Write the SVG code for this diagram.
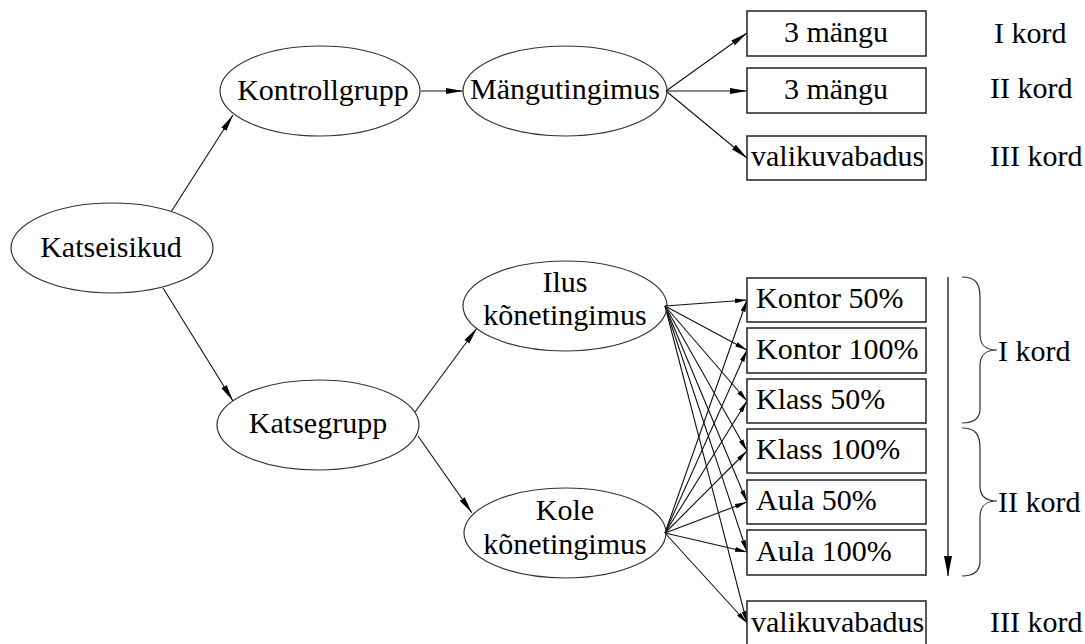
<svg xmlns="http://www.w3.org/2000/svg" width="1085" height="644" viewBox="0 0 1085 644">
<style>
text{font-family:"Liberation Serif","Times New Roman",serif;font-size:30px;fill:#000}
.n{fill:none;stroke:#333;stroke-width:1.2}
.b{fill:#fff;stroke:#222;stroke-width:1.5}
.e{fill:none;stroke:#111;stroke-width:1.1;marker-end:url(#ah)}
.s{fill:none;stroke:#111;stroke-width:1.1;marker-end:url(#as)}
.v{fill:none;stroke:#111;stroke-width:1.3;marker-end:url(#av)}
.c{text-anchor:middle}
</style>
<defs>
<marker id="ah" markerUnits="userSpaceOnUse" markerWidth="18" markerHeight="8" refX="17" refY="4" orient="auto">
<path d="M0,1 L17,4 L0,7 z" fill="#000"/>
</marker>
<marker id="as" markerUnits="userSpaceOnUse" markerWidth="13" markerHeight="6" refX="12" refY="3" orient="auto">
<path d="M0,0.6 L12,3 L0,5.4 z" fill="#000"/>
</marker>
<marker id="av" markerUnits="userSpaceOnUse" markerWidth="21" markerHeight="10" refX="20" refY="5" orient="auto">
<path d="M0,1 L20,5 L0,9 z" fill="#000"/>
</marker>
</defs>
<rect width="1085" height="644" fill="#fff"/>
<g id="connectors">
<line class="e" x1="171" y1="212" x2="233" y2="115"/>
<line class="e" x1="163" y1="288" x2="233" y2="401"/>
<line class="e" x1="421" y1="91" x2="463" y2="91"/>
<line class="e" x1="415" y1="412" x2="477" y2="328"/>
<line class="e" x1="418" y1="436" x2="472" y2="513"/>
<line class="e" x1="666" y1="91" x2="747" y2="33"/>
<line class="e" x1="666" y1="91" x2="747" y2="91"/>
<line class="e" x1="666" y1="91" x2="747" y2="158"/>
<line class="s" x1="665" y1="306" x2="747" y2="300"/>
<line class="s" x1="665" y1="306" x2="747" y2="350"/>
<line class="s" x1="665" y1="306" x2="747" y2="401"/>
<line class="s" x1="665" y1="306" x2="747" y2="451"/>
<line class="s" x1="665" y1="306" x2="747" y2="502"/>
<line class="s" x1="665" y1="306" x2="747" y2="552"/>
<line class="s" x1="665" y1="306" x2="747" y2="623"/>
<line class="s" x1="665" y1="533" x2="747" y2="300"/>
<line class="s" x1="665" y1="533" x2="747" y2="350"/>
<line class="s" x1="665" y1="533" x2="747" y2="401"/>
<line class="s" x1="665" y1="533" x2="747" y2="451"/>
<line class="s" x1="665" y1="533" x2="747" y2="502"/>
<line class="s" x1="665" y1="533" x2="747" y2="552"/>
<line class="s" x1="665" y1="533" x2="747" y2="623"/>
<line class="v" x1="948" y1="277" x2="948" y2="576"/>
</g>
<g id="katseisikud"><ellipse class="n" cx="112" cy="248" rx="101" ry="45"/><text class="c" x="111" y="257">Katseisikud</text></g>
<g id="kontrollgrupp"><ellipse class="n" cx="320" cy="91" rx="100" ry="45"/><text class="c" x="323" y="100">Kontrollgrupp</text></g>
<g id="mangutingimus"><ellipse class="n" cx="565" cy="91" rx="102" ry="45"/><text class="c" x="565" y="99">Mängutingimus</text></g>
<g id="katsegrupp"><ellipse class="n" cx="318" cy="425" rx="101" ry="45"/><text class="c" x="318" y="433">Katsegrupp</text></g>
<g id="ilus"><ellipse class="n" cx="565" cy="306" rx="102" ry="45"/><text class="c" x="565" y="292">Ilus</text><text class="c" x="565" y="325">kõnetingimus</text></g>
<g id="kole"><ellipse class="n" cx="565" cy="533" rx="101" ry="45"/><text class="c" x="565" y="520">Kole</text><text class="c" x="565" y="554">kõnetingimus</text></g>
<g id="m1"><rect class="b" x="747" y="11" width="179" height="45"/><text class="c" x="836" y="42">3 mängu</text></g>
<g id="m2"><rect class="b" x="747" y="68" width="179" height="45"/><text class="c" x="836" y="99">3 mängu</text></g>
<g id="m3"><rect class="b" x="747" y="136" width="179" height="44"/><text x="751" y="166">valikuvabadus</text></g>
<g id="k50"><rect class="b" x="747" y="278" width="179" height="44"/><text x="756" y="308">Kontor 50%</text></g>
<g id="k100"><rect class="b" x="747" y="328" width="179" height="45"/><text x="756" y="359">Kontor 100%</text></g>
<g id="kl50"><rect class="b" x="747" y="379" width="179" height="44"/><text x="756" y="409">Klass 50%</text></g>
<g id="kl100"><rect class="b" x="747" y="429" width="179" height="44"/><text x="756" y="459">Klass 100%</text></g>
<g id="a50"><rect class="b" x="747" y="480" width="179" height="44"/><text x="756" y="510">Aula 50%</text></g>
<g id="a100"><rect class="b" x="747" y="530" width="179" height="45"/><text x="756" y="561">Aula 100%</text></g>
<g id="valik2"><rect class="b" x="747" y="601" width="179" height="46"/><text x="751" y="632">valikuvabadus</text></g>
<g id="labels">
<text x="994" y="43">I kord</text>
<text x="990" y="98">II kord</text>
<text x="990" y="166">III kord</text>
<text x="990" y="632">III kord</text>
<path class="n" d="M962,277 C975,277 980,283 980,297 L980,334 C980,345 985,350 997,350 C985,350 980,355 980,366 L980,409 C980,418 975,423 962,423"/>
<text x="998" y="361">I kord</text>
<path class="n" d="M962,428 C975,428 980,434 980,448 L980,486 C980,496 985,501 997,501 C985,501 980,506 980,517 L980,561 C980,570 975,576 962,576"/>
<text x="998" y="512">II kord</text>
</g>
</svg>
